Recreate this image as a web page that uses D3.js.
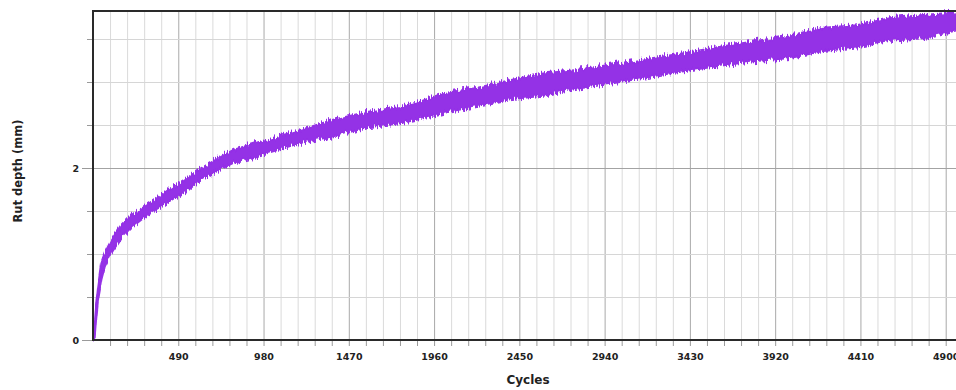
<!DOCTYPE html>
<html>
<head>
<meta charset="utf-8">
<script src="https://cdn.jsdelivr.net/npm/d3@7"></script>
<style>
  body { margin: 0; background: #fff; }
  svg { display: block; font-family: "DejaVu Sans", Verdana, sans-serif; }
</style>
</head>
<body>
<div id="chart"></div>
<script>
const cycles = [0, 10, 19, 29, 48, 67, 105, 163, 220, 278, 355, 450, 546, 615, 806, 998, 1189, 1381, 1573, 1764, 1879, 2013, 2205, 2396, 2587, 2779, 2971, 3220, 3412, 3603, 3795, 4005, 4196, 4388, 4580, 4771, 4960];
// top and bottom of the noisy rut depth band (mm)
const rutUpper = [0, 0.20, 0.43, 0.62, 0.90, 1.01, 1.16, 1.34, 1.45, 1.54, 1.63, 1.77, 1.89, 1.99, 2.21, 2.33, 2.44, 2.56, 2.65, 2.71, 2.77, 2.87, 2.93, 3.02, 3.10, 3.14, 3.20, 3.28, 3.34, 3.41, 3.47, 3.54, 3.63, 3.66, 3.74, 3.78, 3.81];
const rutLower = [0, 0.03, 0.27, 0.47, 0.70, 0.85, 1.01, 1.19, 1.31, 1.40, 1.51, 1.63, 1.74, 1.86, 2.06, 2.17, 2.29, 2.37, 2.47, 2.52, 2.57, 2.64, 2.72, 2.80, 2.84, 2.92, 2.98, 3.07, 3.13, 3.19, 3.24, 3.28, 3.36, 3.40, 3.48, 3.51, 3.60];

const xLabelTicks = [490, 980, 1470, 1960, 2450, 2940, 3430, 3920, 4410, 4900];
const xMinorTicks = d3.range(0, 5100, 98);
const yLabelTicks = [0, 2];
const yMinorTicks = [0.5, 1, 1.5, 2.5, 3, 3.5];

const width = 956, height = 390;
const plotLeft = 93, plotRight = 945.7, plotTop = 11, plotBottom = 340;

const x = d3.scaleLinear().domain([0, 4900]).range([plotLeft, plotRight]);
const y = d3.scaleLinear().domain([0, (plotBottom - plotTop) / 86]).range([plotBottom, plotTop]);

const svg = d3.select('#chart').append('svg')
  .attr('width', width)
  .attr('height', height);

// rough vertical edge so the band reads like the dense noisy trace
const filt = svg.append('defs').append('filter')
  .attr('id', 'jitter')
  .attr('x', '-5%').attr('y', '-20%')
  .attr('width', '110%').attr('height', '140%');
filt.append('feTurbulence')
  .attr('type', 'fractalNoise')
  .attr('baseFrequency', '0.7 0.04')
  .attr('numOctaves', 1)
  .attr('seed', 4)
  .attr('result', 'noise');
// red channel pinned to 0.5 -> no sideways shift
filt.append('feColorMatrix')
  .attr('in', 'noise')
  .attr('type', 'matrix')
  .attr('values', '0 0 0 0 0.5  0 1 0 0 0  0 0 1 0 0  0 0 0 0 1')
  .attr('result', 'noiseY');
filt.append('feDisplacementMap')
  .attr('in', 'SourceGraphic')
  .attr('in2', 'noiseY')
  .attr('scale', 12)
  .attr('xChannelSelector', 'R')
  .attr('yChannelSelector', 'G');

const plotH = plotBottom - plotTop;

// vertical grid
svg.append('g')
  .attr('transform', `translate(0,${plotBottom})`)
  .call(d3.axisBottom(x).tickValues(xMinorTicks.filter(d => d % 490 !== 0)).tickSize(-plotH).tickFormat(''))
  .call(g => g.select('.domain').remove())
  .call(g => g.selectAll('line').attr('stroke', '#dadada'));
svg.append('g')
  .attr('transform', `translate(0,${plotBottom})`)
  .call(d3.axisBottom(x).tickValues(xLabelTicks).tickSize(-plotH).tickFormat(''))
  .call(g => g.select('.domain').remove())
  .call(g => g.selectAll('line').attr('stroke', '#a9a9a9'));

// horizontal grid
svg.append('g')
  .attr('transform', `translate(${plotLeft},0)`)
  .call(d3.axisLeft(y).tickValues(yMinorTicks).tickSize(-(width - plotLeft + 10)).tickFormat(''))
  .call(g => g.select('.domain').remove())
  .call(g => g.selectAll('line').attr('stroke', '#d6d6d6'));
svg.append('g')
  .attr('transform', `translate(${plotLeft},0)`)
  .call(d3.axisLeft(y).tickValues([2]).tickSize(-(width - plotLeft + 10)).tickFormat(''))
  .call(g => g.select('.domain').remove())
  .call(g => g.selectAll('line').attr('stroke', '#a3a3a3'));

// the rut depth band
const band = cycles.map((c, i) => ({ c, hi: rutUpper[i], lo: rutLower[i] }));
svg.append('path')
  .datum(band)
  .attr('fill', '#9430e6')
  .attr('stroke', '#9430e6')
  .attr('stroke-width', 2)
  .attr('filter', 'url(#jitter)')
  .attr('d', d3.area()
    .x(d => x(d.c))
    .y0(d => y(d.lo))
    .y1(d => y(d.hi)));

// frame
svg.append('path')
  .attr('fill', 'none')
  .attr('stroke', '#2a2a2a')
  .attr('stroke-width', 2)
  .attr('d', `M${width + 5},${plotTop}H${plotLeft}V${plotBottom}H${width + 5}`);

// x ticks and labels
svg.append('g')
  .attr('transform', `translate(0,${plotBottom + 1})`)
  .call(d3.axisBottom(x).tickValues(xMinorTicks.filter(d => d > 0)).tickSize(5).tickFormat(''))
  .call(g => g.select('.domain').remove())
  .call(g => g.selectAll('line').attr('stroke', '#9a9a9a'));
svg.append('g')
  .attr('transform', `translate(0,${plotBottom})`)
  .call(d3.axisBottom(x).tickValues(xLabelTicks).tickSize(0).tickPadding(13).tickFormat(d3.format('d')))
  .call(g => g.select('.domain').remove())
  .call(g => g.selectAll('text')
    .attr('fill', '#222')
    .attr('font-size', 9.5)
    .attr('font-weight', 'bold')
    .attr('font-family', '"DejaVu Sans", Verdana, sans-serif'));

// y ticks and labels
svg.append('g')
  .attr('transform', `translate(${plotLeft - 1},0)`)
  .call(d3.axisLeft(y).tickValues(yMinorTicks).tickSize(5).tickFormat(''))
  .call(g => g.select('.domain').remove())
  .call(g => g.selectAll('line').attr('stroke', '#9a9a9a'));
svg.append('g')
  .attr('transform', `translate(${plotLeft - 1},0)`)
  .call(d3.axisLeft(y).tickValues(yLabelTicks).tickSize(10).tickPadding(3).tickFormat(d3.format('d')))
  .call(g => g.select('.domain').remove())
  .call(g => g.selectAll('line').attr('stroke', '#9a9a9a'))
  .call(g => g.selectAll('text')
    .attr('fill', '#222')
    .attr('font-size', 9.5)
    .attr('font-weight', 'bold')
    .attr('font-family', '"DejaVu Sans", Verdana, sans-serif'));

// axis titles
svg.append('text')
  .attr('x', 528)
  .attr('y', 384)
  .attr('text-anchor', 'middle')
  .attr('font-size', 12)
  .attr('font-weight', 'bold')
  .attr('fill', '#222')
  .text('Cycles');

svg.append('text')
  .attr('transform', 'translate(22,171) rotate(-90)')
  .attr('text-anchor', 'middle')
  .attr('font-size', 11.5)
  .attr('font-weight', 'bold')
  .attr('fill', '#222')
  .text('Rut depth (mm)');
</script>
</body>
</html>
